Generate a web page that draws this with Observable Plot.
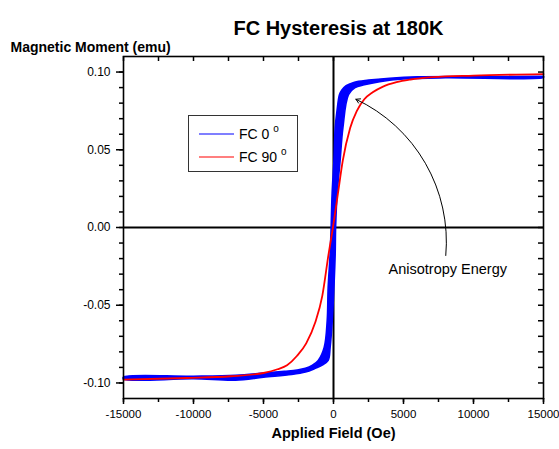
<!DOCTYPE html>
<html>
<head>
<meta charset="utf-8">
<script src="https://cdn.jsdelivr.net/npm/d3@7"></script>
<script src="https://cdn.jsdelivr.net/npm/@observablehq/plot@0.6"></script>
<style>
  html, body { margin: 0; padding: 0; background: #fff; }
  #wrap { position: relative; width: 559px; height: 449px; font-family: "Liberation Sans", Arial, sans-serif; }
  #legend { position: absolute; left: 0; top: 0; }
</style>
</head>
<body>
<div id="wrap"></div>
<script>
// ---- Data ----
const title = "FC Hysteresis at 180K";
const xLabel = "Applied Field (Oe)";
const yLabel = "Magnetic Moment (emu)";

const xMajor = [-15000, -10000, -5000, 0, 5000, 10000, 15000];
const xMinor = [-15000, -12500, -10000, -7500, -5000, -2500, 0, 2500, 5000, 7500, 10000, 12500, 15000];
const yMajor = [-0.10, -0.05, 0.00, 0.05, 0.10];
const yMinor = [-0.10, -0.09, -0.08, -0.07, -0.06, -0.05, -0.04, -0.03, -0.02, -0.01, 0.00, 0.01, 0.02, 0.03, 0.04, 0.05, 0.06, 0.07, 0.08, 0.09, 0.10];

const seriesNames = ["FC 0", "FC 90"];
const seriesColors = ["#0000ff", "#ff0000"];

// FC 0° loop: descending branch (upper/left edge of band)
const fc0DescField = [15000, 10000, 6000, 4000, 2500, 1500, 900, 600, 430, 250, 120, 30, -100, -170, -240, -380, -450, -660, -1090, -1500, -2010, -2600, -3500, -5000, -7000, -10000, -15000];
const fc0DescMoment = [0.0972, 0.0971, 0.0969, 0.0960, 0.0948, 0.0935, 0.0912, 0.0885, 0.0855, 0.0750, 0.0640, 0.0428, 0.0216, 0.0000, -0.0170, -0.0385, -0.0600, -0.0770, -0.0855, -0.0885, -0.0906, -0.0917, -0.0925, -0.0936, -0.0950, -0.0957, -0.0962];
// FC 0° loop: ascending branch (lower/right edge of band)
const fc0AscField = [-15000, -10000, -7000, -5000, -3000, -2000, -1300, -800, -380, -240, -90, 30, 120, 150, 260, 470, 670, 1070, 1540, 2200, 3300, 5000, 8000, 15000];
const fc0AscMoment = [-0.0975, -0.0973, -0.0982, -0.0963, -0.0946, -0.0930, -0.0906, -0.0885, -0.0855, -0.0770, -0.0600, -0.0385, -0.0170, 0.0000, 0.0216, 0.0428, 0.0640, 0.0855, 0.0900, 0.0918, 0.0938, 0.0955, 0.0963, 0.0965];

// FC 90° curve
const fc90Field = [-15000, -10450, -7350, -5000, -4000, -3320, -2600, -1950, -1300, -800, -350, -40, 310, 660, 1190, 1660, 2200, 2800, 3500, 4500, 5500, 7100, 10000, 15000];
const fc90Moment = [-0.0978, -0.0968, -0.0957, -0.0936, -0.0912, -0.0886, -0.0825, -0.0745, -0.0610, -0.0440, -0.0170, 0.0000, 0.0214, 0.0428, 0.0640, 0.0748, 0.0825, 0.0870, 0.0905, 0.0935, 0.0952, 0.0967, 0.0977, 0.0987];

// Annotation
const annText = ["Anisotropy Energy"];
const annTextX = [8160];
const annTextY = [-0.0271];
const annArrowFrom = [8020, -0.0180];
const annArrowTo = [1600, 0.0825];

// ---- Build ----
const fc0Loop = [
  ...fc0DescField.map((x, i) => ({x, y: fc0DescMoment[i]})),
  ...fc0AscField.map((x, i) => ({x, y: fc0AscMoment[i]}))
];
fc0Loop.push(fc0Loop[0]);
const fc90 = fc90Field.map((x, i) => ({x, y: fc90Moment[i]}));
const ann = annText.map((t, i) => ({t, x: annTextX[i], y: annTextY[i]}));
const arrowData = [{x1: annArrowFrom[0], y1: annArrowFrom[1], x2: annArrowTo[0], y2: annArrowTo[1]}];

const W = 559, H = 449;
const mL = 123, mR = 16, mT = 56, mB = 51;
const fw = W - mL - mR, fh = H - mT - mB;
const font = "Liberation Sans, Arial, sans-serif";

const chart = Plot.plot({
  width: W,
  height: H,
  marginLeft: mL,
  marginRight: mR,
  marginTop: mT,
  marginBottom: mB,
  style: {fontFamily: font, fontSize: "11.5px", color: "#000", background: "#fff", overflow: "visible"},
  x: {domain: [-15000, 15000]},
  y: {domain: [-0.11, 0.11]},
  marks: [
    Plot.ruleX([0], {stroke: "#000", strokeWidth: 2}),
    Plot.ruleY([0], {stroke: "#000", strokeWidth: 2}),
    Plot.line(fc0Loop, {x: "x", y: "y", stroke: seriesColors[0], fill: seriesColors[0], strokeWidth: 1.6, curve: "catmull-rom"}),
    Plot.line(fc90, {x: "x", y: "y", stroke: seriesColors[1], strokeWidth: 1.8, curve: "monotone-x"}),
    Plot.arrow(arrowData, {x1: "x1", y1: "y1", x2: "x2", y2: "y2", bend: -35, stroke: "#000", strokeWidth: 1, headLength: 7}),
    Plot.text(ann, {x: "x", y: "y", text: "t", fontSize: 14.5, fill: "#000"}),
    // minor ticks
    Plot.tickX(xMinor, {x: d => d, insetTop: fh, insetBottom: -4, stroke: "#000", strokeWidth: 1.5}),
    Plot.tickX(xMinor, {x: d => d, insetTop: 0, insetBottom: fh - 5, stroke: "#000", strokeWidth: 1.5}),
    Plot.tickY(yMinor, {y: d => d, insetLeft: -4, insetRight: fw, stroke: "#000", strokeWidth: 1.5}),
    Plot.tickY(yMinor, {y: d => d, insetLeft: fw - 5, insetRight: 0, stroke: "#000", strokeWidth: 1.5}),
    // major axes with labels
    Plot.axisX(xMajor, {anchor: "bottom", tickSize: 6, tickPadding: 5, tickFormat: d => String(d), label: null, strokeWidth: 1.5, fontSize: 11.5}),
    Plot.axisY(yMajor, {anchor: "left", tickSize: 7, tickPadding: 6, tickFormat: d => d.toFixed(2), label: null, strokeWidth: 1.5, fontSize: 12}),
    Plot.frame({stroke: "#000", strokeWidth: 1.6}),
    // titles
    Plot.text([title], {frameAnchor: "top", dx: 5, dy: -36, fontSize: 20, fontWeight: "bold", fill: "#000"}),
    Plot.text([yLabel], {frameAnchor: "top-left", dx: -113, dy: -14, textAnchor: "start", fontSize: 14, fontWeight: "bold", fill: "#000"}),
    Plot.text([xLabel], {frameAnchor: "bottom", dy: 39, fontSize: 14.5, fontWeight: "bold", fill: "#000"})
  ]
});
const wrap = document.getElementById("wrap");
wrap.appendChild(chart);

// Legend overlay
const ns = "http://www.w3.org/2000/svg";
const leg = document.createElementNS(ns, "svg");
leg.setAttribute("id", "legend");
leg.setAttribute("width", W);
leg.setAttribute("height", H);
leg.style.fontFamily = font;
const box = document.createElementNS(ns, "rect");
box.setAttribute("x", 188.5); box.setAttribute("y", 115.5);
box.setAttribute("width", 109); box.setAttribute("height", 56);
box.setAttribute("fill", "#fff"); box.setAttribute("stroke", "#333"); box.setAttribute("stroke-width", 1);
leg.appendChild(box);
seriesNames.forEach((name, i) => {
  const yy = 134 + i * 23;
  const ln = document.createElementNS(ns, "line");
  ln.setAttribute("x1", 199); ln.setAttribute("x2", 234);
  ln.setAttribute("y1", yy); ln.setAttribute("y2", yy);
  ln.setAttribute("stroke", seriesColors[i]); ln.setAttribute("stroke-width", 1.2);
  leg.appendChild(ln);
  const tx = document.createElementNS(ns, "text");
  tx.setAttribute("x", 239); tx.setAttribute("y", yy + 5);
  tx.setAttribute("font-size", 14); tx.setAttribute("fill", "#000");
  tx.textContent = name + " ";
  const sup = document.createElementNS(ns, "tspan");
  sup.setAttribute("font-size", 10); sup.setAttribute("dy", -7);
  sup.textContent = "o";
  tx.appendChild(sup);
  leg.appendChild(tx);
});
wrap.appendChild(leg);
</script>
</body>
</html>
